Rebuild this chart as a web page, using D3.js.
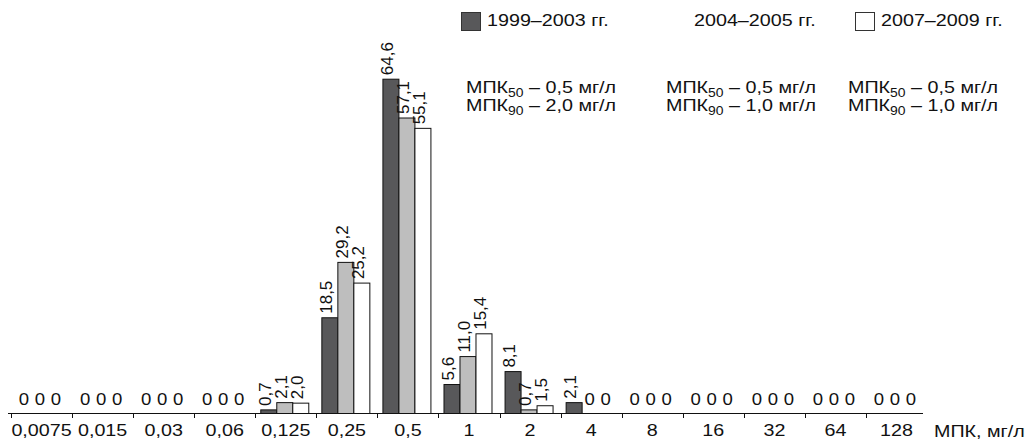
<!DOCTYPE html>
<html>
<head>
<meta charset="utf-8">
<script src="https://cdn.jsdelivr.net/npm/d3@7"></script>
<style>
  html, body { margin: 0; padding: 0; background: #fff; }
  svg { display: block; }
  text { font-family: "Liberation Sans", Arial, sans-serif; fill: #111; }
</style>
</head>
<body>
<svg id="chart" width="1029" height="443"></svg>
<script>
const categories = ["0,0075","0,015","0,03","0,06","0,125","0,25","0,5","1","2","4","8","16","32","64","128"];
const seriesNames = ["1999–2003 гг.", "2004–2005 гг.", "2007–2009 гг."];
const s1999 = [0,0,0,0,0.7,18.5,64.6,5.6,8.1,2.1,0,0,0,0,0];
const s2004 = [0,0,0,0,2.1,29.2,57.1,11.0,0.7,0,0,0,0,0,0];
const s2007 = [0,0,0,0,2.0,25.2,55.1,15.4,1.5,0,0,0,0,0,0];
const mpk50 = ["0,5", "0,5", "0,5"];
const mpk90 = ["2,0", "1,0", "1,0"];
const axisTitle = "МПК, мг/л";

const series = [s1999, s2004, s2007];
const fills = ["#58585a", "#bebebe", "#ffffff"];
const SX = 1.16; // horizontal text stretch

const svg = d3.select("#chart");
const base = 413.5;
const x = d3.scaleBand().domain(categories).range([11, 11 + 15 * 61.07]).padding(0);
const xs = d3.scaleBand().domain([0, 1, 2]).range([5, 53]).padding(0);
const y = d3.scaleLinear().domain([0, 70]).range([base, base - 70 * 5.175]);
const fmt = v => v.toFixed(1).replace(".", ",");

// bars and labels
const g = svg.append("g");
series.forEach((vals, si) => {
  vals.forEach((v, ci) => {
    const bx = x(categories[ci]) + xs(si);
    const cx = bx + xs.bandwidth() / 2;
    if (v > 0) {
      g.append("rect")
        .attr("x", bx + 0.5)
        .attr("y", y(v))
        .attr("width", xs.bandwidth())
        .attr("height", base - y(v))
        .attr("fill", fills[si])
        .attr("stroke", "#111")
        .attr("stroke-width", 1);
      g.append("text")
        .attr("transform", `translate(${cx + 2.5},${y(v) - 4}) rotate(-90)`)
        .attr("text-anchor", "start")
        .attr("font-size", 17)
        .text(fmt(v));
    } else {
      g.append("text")
        .attr("transform", `translate(${cx},${base - 9}) scale(${SX},1)`)
        .attr("text-anchor", "middle")
        .attr("font-size", 16)
        .text("0");
    }
  });
});

// axis
const axisG = svg.append("g").attr("transform", `translate(0,${base})`);
axisG.call(d3.axisBottom(x).tickSize(0).tickPadding(0));
axisG.select(".domain").remove();
axisG.selectAll(".tick text")
  .attr("y", 23).attr("dy", null)
  .attr("font-size", 17)
  .attr("fill", "#111")
  .attr("font-family", "Liberation Sans, Arial, sans-serif")
  .attr("transform", `scale(${SX},1)`);
axisG.append("line")
  .attr("x1", 8).attr("x2", 923).attr("y1", 0).attr("y2", 0)
  .attr("stroke", "#111").attr("stroke-width", 1);
categories.forEach(c => {
  axisG.append("line")
    .attr("x1", Math.round(x(c)) + 0.5).attr("x2", Math.round(x(c)) + 0.5)
    .attr("y1", 0).attr("y2", 4.5)
    .attr("stroke", "#111").attr("stroke-width", 1);
});
svg.append("text")
  .attr("transform", `translate(934,${base + 23}) scale(${SX},1)`)
  .attr("font-size", 17)
  .text(axisTitle);

// legend
const legX = [461, 664, 855];
seriesNames.forEach((name, i) => {
  if (i !== 1) {
    svg.append("rect")
      .attr("x", legX[i] + 0.5).attr("y", 12.5)
      .attr("width", 19).attr("height", 18)
      .attr("fill", fills[i]).attr("stroke", "#333").attr("stroke-width", 1);
  }
  svg.append("text")
    .attr("transform", `translate(${legX[i] + (i === 1 ? 30 : 26)},26) scale(${SX},1)`)
    .attr("font-size", 17)
    .text(name);
});

// MPK annotations
const mpkX = [466, 666, 848];
[mpk50, mpk90].forEach((arr, li) => {
  const sub = li === 0 ? "50" : "90";
  arr.forEach((val, i) => {
    const t = svg.append("text")
      .attr("transform", `translate(${mpkX[i]},${93 + li * 18}) scale(${SX},1)`)
      .attr("font-size", 17);
    t.append("tspan").text("МПК");
    t.append("tspan").attr("font-size", 12).attr("dy", 3.5).text(sub);
    t.append("tspan").attr("dy", -3.5).text(" – " + val + " мг/л");
  });
});
</script>
</body>
</html>
